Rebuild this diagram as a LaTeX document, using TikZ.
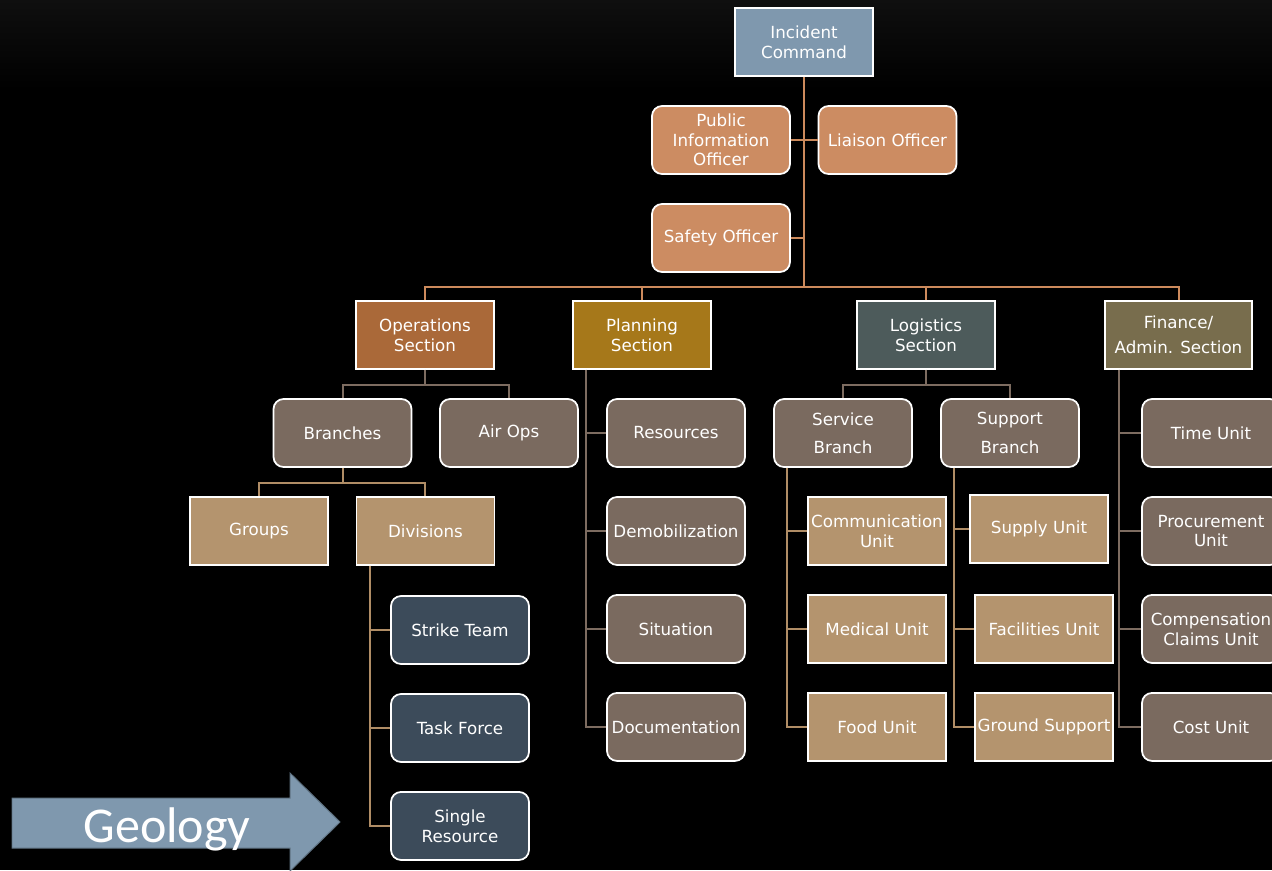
\documentclass[tikz,border=0pt]{standalone}
\usepackage{fontspec}
\setmainfont{DejaVu Sans}
\newfontfamily\geofont{Carlito}
\usepackage{tikz}
\usetikzlibrary{calc}

\definecolor{bgtop}{HTML}{0F0F0F}
\definecolor{icblue}{HTML}{7F98AE}
\definecolor{officer}{HTML}{CC8C62}
\definecolor{opscol}{HTML}{AA6939}
\definecolor{plancol}{HTML}{A6781A}
\definecolor{logcol}{HTML}{4D5B5B}
\definecolor{fincol}{HTML}{786D4D}
\definecolor{graybrown}{HTML}{7A6A5F}
\definecolor{tan}{HTML}{B4946E}
\definecolor{navy}{HTML}{3C4B5A}
\definecolor{topwire}{HTML}{CC8A5C}
\definecolor{graywire}{HTML}{7D6C60}
\definecolor{tanwire}{HTML}{B08D66}

\tikzstyle{box} = [draw=white, line width=0.35mm, text=white, align=center,
  minimum width=2.76cm, minimum height=1.36cm, inner sep=1pt,
  font=\fontsize{9.5}{11.2}\selectfont]
\tikzstyle{roundbox} = [box, rounded corners=0.2cm]
\tikzstyle{topline} = [topwire, line width=0.4mm]
\tikzstyle{grayline} = [graywire, line width=0.4mm]
\tikzstyle{tanline} = [tanwire, line width=0.4mm]

\begin{document}
\begin{tikzpicture}[x=0.02cm, y=-0.02cm, node distance=1.96cm]
  % background
  \useasboundingbox (0,0) rectangle (1272,870);
  \fill[black] (0,0) rectangle (1272,870);
  \shade[top color=bgtop, bottom color=black] (0,0) rectangle (1272,90);

  % command staff
  \node (ic) [box, fill=icblue] at (804,42) {Incident\\Command};
  \node (pio) [roundbox, fill=officer] at (721,140) {Public\\Information\\Officer};
  \node (liaison) [roundbox, fill=officer] at (887.5,140) {Liaison Officer};
  \node (safety) [roundbox, fill=officer, below of=pio] {Safety Officer};

  % sections
  \node (ops) [box, fill=opscol] at (425,335) {Operations\\Section};
  \node (plan) [box, fill=plancol] at (642,335) {Planning\\Section};
  \node (log) [box, fill=logcol] at (926,335) {Logistics\\Section};
  \node (fin) [box, fill=fincol, minimum width=2.94cm] at (1178.5,335) {Finance/\\[3pt]Admin. Section};

  % operations
  \node (branches) [roundbox, fill=graybrown] at (342.5,433) {Branches};
  \node (airops) [roundbox, fill=graybrown, right of=branches, node distance=3.33cm] {Air Ops};
  \node (groups) [box, fill=tan] at (259,531) {Groups};
  \node (div) [box, fill=tan, right of=groups, node distance=3.33cm] {Divisions};
  \node (strike) [roundbox, fill=navy] at (460,630) {Strike Team};
  \node (task) [roundbox, fill=navy, below of=strike] {Task Force};
  \node (single) [roundbox, fill=navy, below of=task] {Single\\Resource};

  % planning
  \node (res) [roundbox, fill=graybrown] at (676,433) {Resources};
  \node (demob) [roundbox, fill=graybrown, below of=res] {Demobilization};
  \node (sit) [roundbox, fill=graybrown, below of=demob] {Situation};
  \node (doc) [roundbox, fill=graybrown, below of=sit] {Documentation};

  % logistics
  \node (service) [roundbox, fill=graybrown] at (843,433) {Service\\[5pt]Branch};
  \node (support) [roundbox, fill=graybrown, right of=service, node distance=3.34cm] {Support\\[5pt]Branch};
  \node (comm) [box, fill=tan] at (877,531) {Communication\\Unit};
  \node (medical) [box, fill=tan, below of=comm] {Medical Unit};
  \node (food) [box, fill=tan, below of=medical] {Food Unit};
  \node (supply) [box, fill=tan] at (1039,529) {Supply Unit};
  \node (facil) [box, fill=tan] at (1044,629) {Facilities Unit};
  \node (ground) [box, fill=tan, below of=facil] {Ground Support};

  % finance
  \node (time) [roundbox, fill=graybrown] at (1211,433) {Time Unit};
  \node (procure) [roundbox, fill=graybrown, below of=time] {Procurement\\Unit};
  \node (comp) [roundbox, fill=graybrown, below of=procure] {Compensation\\Claims Unit};
  \node (cost) [roundbox, fill=graybrown, below of=comp] {Cost Unit};

  % top connectors
  \coordinate (bus) at (804,287);
  \draw [topline] (ic.south) -- (ic.south |- bus);
  \draw [topline] (pio.east) -- (liaison.west);
  \draw [topline] (safety.east) -- (safety.east -| ic.south);
  \draw [topline] (ops.north) |- (fin.north |- bus) -- (fin.north);
  \draw [topline] (plan.north) -- (plan.north |- bus);
  \draw [topline] (log.north) -- (log.north |- bus);

  % operations connectors
  \draw [grayline] (ops.south) -- ++(0,15) -| (branches.north);
  \draw [grayline] (ops.south) -- ++(0,15) -| (airops.north);
  \draw [tanline] (branches.south) -- ++(0,15) -| (groups.north);
  \draw [tanline] (branches.south) -- ++(0,15) -| (div.north);
  \draw [tanline] ([xshift=0.28cm]div.south west) |- (strike.west);
  \draw [tanline] ([xshift=0.28cm]div.south west) |- (task.west);
  \draw [tanline] ([xshift=0.28cm]div.south west) |- (single.west);

  % planning connectors
  \draw [grayline] ([xshift=0.28cm]plan.south west) |- (res.west);
  \draw [grayline] ([xshift=0.28cm]plan.south west) |- (demob.west);
  \draw [grayline] ([xshift=0.28cm]plan.south west) |- (sit.west);
  \draw [grayline] ([xshift=0.28cm]plan.south west) |- (doc.west);

  % logistics connectors
  \draw [grayline] (log.south) -- ++(0,15) -| (service.north);
  \draw [grayline] (log.south) -- ++(0,15) -| (support.north);
  \draw [tanline] ([xshift=0.28cm]service.south west) |- (comm.west);
  \draw [tanline] ([xshift=0.28cm]service.south west) |- (medical.west);
  \draw [tanline] ([xshift=0.28cm]service.south west) |- (food.west);
  \draw [tanline] ([xshift=0.28cm]support.south west) |- (supply.west);
  \draw [tanline] ([xshift=0.28cm]support.south west) |- (facil.west);
  \draw [tanline] ([xshift=0.28cm]support.south west) |- (ground.west);

  % finance connectors
  \draw [grayline] ([xshift=0.3cm]fin.south west) |- (time.west);
  \draw [grayline] ([xshift=0.3cm]fin.south west) |- (procure.west);
  \draw [grayline] ([xshift=0.3cm]fin.south west) |- (comp.west);
  \draw [grayline] ([xshift=0.3cm]fin.south west) |- (cost.west);

  % geology arrow
  \filldraw [fill=icblue, draw=icblue!75!black, line width=0.2mm]
    (12,798) -- (290,798) -- (290,773) -- (340,822) -- (290,871) -- (290,848) -- (12,848) -- cycle;
  \node (geo) [text=white, anchor=base, inner sep=0pt, font=\geofont\fontsize{28.5}{30}\selectfont] at (167,842) {Geology};
\end{tikzpicture}
\end{document}
